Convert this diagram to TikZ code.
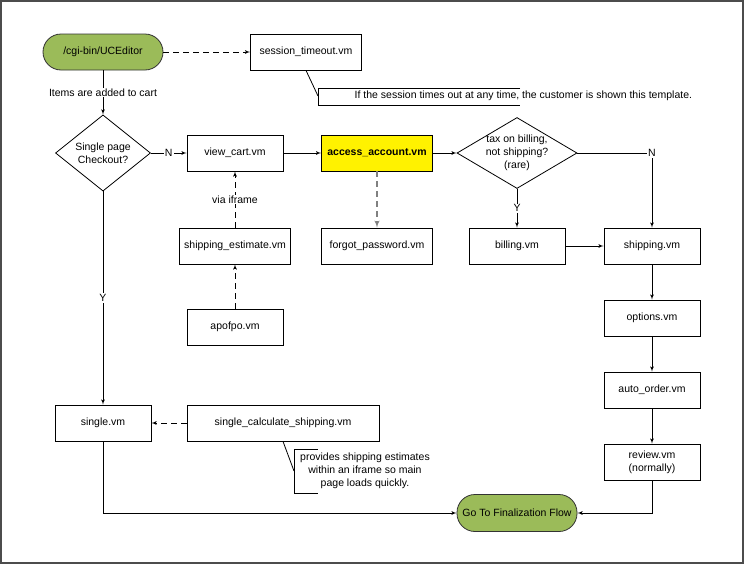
\documentclass[tikz,border=0pt]{standalone}
\usepackage{fontspec}
\setmainfont{Liberation Sans}
\usepackage{tikz}
\usetikzlibrary{shapes,arrows,positioning,calc}
\definecolor{termgreen}{HTML}{9BBB59}
\tikzset{
block/.style = {draw, fill=white, rectangle, minimum height=36pt, minimum width=96pt},
wideblock/.style = {block, minimum width=111pt},
decision/.style = {draw, fill=white, diamond, inner sep=0pt, align=center, minimum width=95pt, minimum height=71pt},
startstop/.style = {draw=black!80, fill=termgreen, rectangle, rounded corners=18pt, minimum height=36pt, minimum width=120pt},
lbl/.style = {fill=white, inner sep=1pt},
tmp/.style = {coordinate},
dashline/.style = {dash pattern=on 6pt off 4pt}
}

\begin{document}
\begin{tikzpicture}[x=1pt, y=-1pt, >=latex', line width=0.8pt, font=\fontsize{10.5}{13}\selectfont]
	\useasboundingbox (0,0) rectangle (745,565);
	\draw[black!70, line width=1.5pt] (1,1) rectangle (743,563);
	\node[startstop] (editor) at (103,52) {/cgi-bin/UCEditor};
	\node[wideblock, right of=editor, node distance=203pt] (session) {session\_timeout.vm};
	\node[decision, below of=editor, node distance=101pt] (single_page) {Single page\\Checkout?};
	\node[block, right of=single_page, node distance=132pt] (view_cart) {view\_cart.vm};
	\node[wideblock, fill=yellow, right of=view_cart, node distance=142pt] (access) {\textbf{access\_account.vm}};
	\node[decision, right of=access, node distance=140pt, minimum width=120pt,
		label={[align=center]center:tax on billing,\\not shipping?\\(rare)}] (tax) {};
	\node[wideblock, below of=access, node distance=93pt] (forgot) {forgot\_password.vm};
	\node[wideblock, below of=view_cart, node distance=93pt] (ship_est) {shipping\_estimate.vm};
	\node[block, below of=ship_est, node distance=81pt] (apofpo) {apofpo.vm};
	\node[block, below of=tax, node distance=93pt] (billing) {billing.vm};
	\node[block, right of=billing, node distance=135pt] (shipping) {shipping.vm};
	\node[block, below of=shipping, node distance=72pt] (options) {options.vm};
	\node[block, below of=options, node distance=72pt] (auto_order) {auto\_order.vm};
	\node[block, below of=auto_order, node distance=72pt, align=center] (review) {review.vm\\(normally)};
	\node[block, below of=single_page, node distance=270pt] (single) {single.vm};
	\node[block, right of=single, node distance=180pt, minimum width=192pt] (single_calc) {single\_calculate\_shipping.vm};
	\node[startstop, below of=billing, node distance=267pt, minimum height=37pt] (final) {Go To Finalization Flow};
	% connectors
	\draw[->, dashline] (editor) -- (session);
	\draw[->] (editor) -- node[lbl]{Items are added to cart} (single_page);
	\draw[->] (single_page) -- node[lbl]{N} (view_cart);
	\draw[->] (view_cart) -- (access);
	\draw[->, dashline, gray, line width=1.4pt] (access) -- (forgot);
	\draw[->] (access) -- (tax);
	\draw[->] (tax) -- node[lbl]{Y} (billing);
	\draw[->] (tax) -| node[lbl, pos=0.5]{N} (shipping);
	\draw[->] (billing) -- (shipping);
	\draw[->] (shipping) -- (options);
	\draw[->] (options) -- (auto_order);
	\draw[->] (auto_order) -- (review);
	\draw[->] (review) |- (final);
	\draw[->, dashline] (ship_est) -- node[lbl]{via iframe} (view_cart);
	\draw[->, dashline] (apofpo) -- (ship_est);
	\draw[->] (single_page) -- node[lbl]{Y} (single);
	\draw[->, dashline] (single_calc) -- (single);
	\draw[->] (single) |- (final);
	% notes
	\coordinate (tip1) at (318,96);
	\draw (session.south) -- (tip1);
	\draw (tip1) ++(202,-8) -- ++(-202,0) -- ++(0,17) -- ++(202,0);
	\node[anchor=west] (note1) at (351,96) {If the session times out at any time, the customer is shown this template.};
	\coordinate (tip2) at (294,471);
	\draw (single_calc.south) -- (tip2);
	\draw (tip2) ++(24,-22) -- ++(-24,0) -- ++(0,44) -- ++(24,0);
	\node[align=center] (note2) at (365,471) {provides shipping estimates\\within an iframe so main\\page loads quickly.};
\end{tikzpicture}
\end{document}
